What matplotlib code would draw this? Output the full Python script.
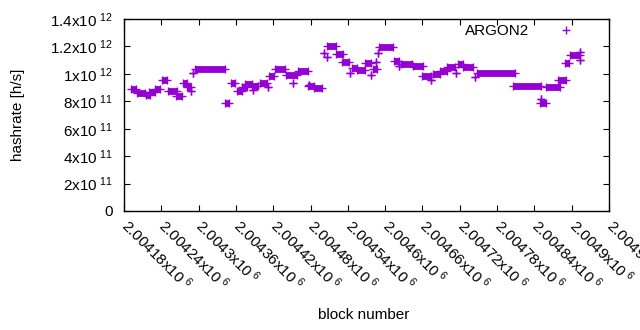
import matplotlib
matplotlib.use("Agg")
import matplotlib.pyplot as plt
from matplotlib.collections import LineCollection
from matplotlib.transforms import ScaledTranslation
import numpy as np

# runs of consecutive blocks with the same hashrate (start block, end block, rate)
run_start = [
    2004192, 2004201, 2004215, 2004220, 2004230, 2004241, 2004251, 2004264, 2004275, 2004281,
    2004288, 2004291, 2004294, 2004342, 2004352, 2004362, 2004370, 2004375, 2004387, 2004386,
    2004399, 2004412, 2004413, 2004423, 2004440, 2004452, 2004460, 2004477, 2004476, 2004486,
    2004502, 2004506, 2004506, 2004521, 2004531, 2004543, 2004547, 2004555, 2004568, 2004577,
    2004580, 2004585, 2004588, 2004590, 2004614, 2004622, 2004625, 2004645, 2004659, 2004674,
    2004677, 2004688, 2004699, 2004714, 2004717, 2004725, 2004744, 2004748, 2004806, 2004851,
    2004849, 2004859, 2004878, 2004889, 2004897, 2004913, 2004913,
]
run_end = [
    2004200, 2004214, 2004222, 2004230, 2004238, 2004249, 2004265, 2004273, 2004281, 2004288,
    2004288, 2004291, 2004342, 2004349, 2004358, 2004370, 2004378, 2004386, 2004387, 2004395,
    2004410, 2004412, 2004421, 2004439, 2004458, 2004452, 2004476, 2004477, 2004486, 2004498,
    2004502, 2004506, 2004521, 2004532, 2004542, 2004543, 2004555, 2004568, 2004577, 2004577,
    2004587, 2004585, 2004588, 2004613, 2004622, 2004622, 2004643, 2004661, 2004674, 2004674,
    2004688, 2004699, 2004712, 2004714, 2004725, 2004741, 2004744, 2004809, 2004851, 2004851,
    2004859, 2004881, 2004891, 2004896, 2004913, 2004913, 2004913,
]
run_rate = [
    8.87e11, 8.64e11, 8.46e11, 8.68e11, 8.90e11, 9.55e11, 8.78e11, 8.38e11, 9.33e11, 9.04e11,
    8.75e11, 1.006e12, 1.039e12, 7.87e11, 9.33e11, 8.78e11, 9.04e11, 9.26e11, 8.82e11, 9.11e11,
    9.33e11, 9.04e11, 9.84e11, 1.035e12, 9.91e11, 9.33e11, 1.021e12, 9.19e11, 9.15e11, 8.97e11,
    1.152e12, 1.123e12, 1.203e12, 1.145e12, 1.086e12, 1.006e12, 1.042e12, 1.028e12, 1.079e12, 9.91e11,
    1.035e12, 1.086e12, 1.152e12, 1.196e12, 1.094e12, 1.057e12, 1.072e12, 1.057e12, 9.84e11, 9.55e11,
    9.99e11, 1.021e12, 1.050e12, 1.006e12, 1.072e12, 1.050e12, 9.77e11, 1.006e12, 9.11e11, 8.16e11,
    7.87e11, 9.04e11, 9.55e11, 1.079e12, 1.137e12, 1.159e12, 1.100e12,
]

x_ticks = [2004180 + 60 * k for k in range(14)]
x_tick_labels = [
    "2.00418", "2.00424", "2.0043", "2.00436", "2.00442", "2.00448", "2.00454",
    "2.0046", "2.00466", "2.00472", "2.00478", "2.00484", "2.0049", "2.00496",
]
y_ticks = [0, 2e11, 4e11, 6e11, 8e11, 1e12, 1.2e12, 1.4e12]
y_tick_labels = ["0", "2x10", "4x10", "6x10", "8x10", "1x10", "1.2x10", "1.4x10"]
y_tick_exp = ["", "11", "11", "11", "11", "12", "12", "12"]

COLOR = "#9400d3"
FS = 11

plt.rcParams["font.family"] = ["Liberation Sans", "DejaVu Sans"]
plt.rcParams["mathtext.fontset"] = "custom"
plt.rcParams["mathtext.rm"] = "Liberation Sans"
plt.rcParams["mathtext.it"] = "Liberation Sans"
plt.rcParams["mathtext.bf"] = "Liberation Sans"

fig = plt.figure(figsize=(6.4, 3.3), dpi=100)
ax = fig.add_axes([124 / 640, 1 - 211 / 330, 485 / 640, 192 / 330])

# each run of equal values: a solid band the height of the marker, with a '+' at both ends
segs = [[(s, v), (e, v)] for s, e, v in zip(run_start, run_end, run_rate)]
lc = LineCollection(segs, colors=COLOR, linewidths=4.9, capstyle="butt")
ax.add_collection(lc)
ends_x = np.concatenate([run_start, run_end])
ends_y = np.concatenate([run_rate, run_rate])
ax.plot(ends_x, ends_y, "+", color=COLOR, ms=5.4, mew=1.0, ls="none", label="ARGON2")

ax.set_xlim(x_ticks[0], x_ticks[-1])
ax.set_ylim(0, 1.4e12)
ax.set_xticks(x_ticks)
ax.set_xticklabels([t + r"x10$\;^{6}$" for t in x_tick_labels], rotation=-45,
                   ha="left", va="top", rotation_mode="anchor", fontsize=FS)
ax.set_yticks(y_ticks)
ax.set_yticklabels([t + (r"$\;^{%s}$" % p if p else "") for t, p in zip(y_tick_labels, y_tick_exp)],
                   fontsize=FS)
ax.tick_params(direction="in", length=4, width=0.8, top=True, right=True, colors="black")
ax.tick_params(axis="y", pad=8)
ax.tick_params(axis="x", pad=8)
shift = ScaledTranslation(7 / 100, 6 / 100, fig.dpi_scale_trans)
for lbl in ax.get_xticklabels():
    lbl.set_transform(lbl.get_transform() + shift)
for sp in ax.spines.values():
    sp.set_linewidth(1.0)

ax.set_xlabel("block number", fontsize=FS)
ax.set_ylabel("hashrate [h/s]", fontsize=FS)
ax.xaxis.set_label_coords((364 - 124) / 485, (211 - 308) / 192)
ax.yaxis.set_label_coords((25 - 124) / 485, 0.5)

ax.legend(loc="upper right", markerfirst=False, frameon=False, numpoints=1,
          handlelength=2.0, handletextpad=1.4, borderpad=0, borderaxespad=0,
          bbox_to_anchor=((581 - 124) / 485, 1 - 5 / 192), fontsize=FS)

fig.savefig("out.png", dpi=100)
